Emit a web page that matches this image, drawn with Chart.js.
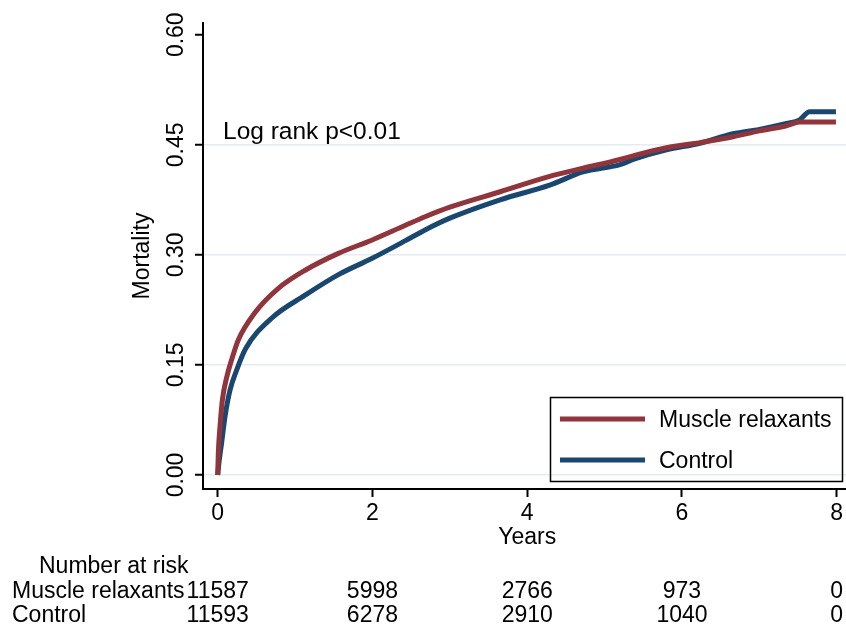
<!DOCTYPE html>
<html>
<head>
<meta charset="utf-8">
<script src="https://cdn.jsdelivr.net/npm/chart.js@4.4.1/dist/chart.umd.min.js"></script>
<style>
  html, body { margin: 0; padding: 0; background: #fff; }
</style>
</head>
<body>
<canvas id="km" width="846" height="624"></canvas>
<script>
// Kaplan-Meier cumulative mortality
const YEARS_RELAX = [0, 0.008, 0.03, 0.06, 0.116, 0.18, 0.266, 0.48, 0.78, 1.13, 1.56, 1.99, 2.42, 2.68, 3.0, 3.65, 4.29, 4.72, 5.2, 5.37, 5.8, 6.23, 6.66, 7.0, 7.35, 7.52, 7.99];
const MORT_RELAX  = [0, 0.03, 0.066, 0.102, 0.133, 0.157, 0.184, 0.221, 0.254, 0.279, 0.302, 0.32, 0.34, 0.352, 0.365, 0.386, 0.407, 0.418, 0.43, 0.435, 0.446, 0.453, 0.461, 0.469, 0.476, 0.481, 0.481];

const YEARS_CTRL = [0, 0.02, 0.05, 0.095, 0.16, 0.245, 0.36, 0.7, 1.13, 1.56, 1.99, 2.42, 2.68, 3.0, 3.65, 4.29, 4.72, 5.2, 5.37, 5.8, 6.23, 6.66, 7.0, 7.35, 7.52, 7.65, 7.99];
const MORT_CTRL  = [0, 0.02, 0.043, 0.08, 0.116, 0.143, 0.172, 0.214, 0.245, 0.273, 0.295, 0.319, 0.334, 0.35, 0.375, 0.395, 0.413, 0.423, 0.43, 0.443, 0.452, 0.465, 0.471, 0.479, 0.484, 0.495, 0.495];

const X_TICKS = [0, 2, 4, 6, 8];
const Y_TICKS = [0, 0.15, 0.30, 0.45, 0.60];

const GROUPS = ['Muscle relaxants', 'Control'];
const RISK_RELAX = [11587, 5998, 2766, 973, 0];
const RISK_CTRL = [11593, 6278, 2910, 1040, 0];

const RED = '#90353b';
const BLUE = '#1a476f';
const GRID = '#e3ecf0';
const FAMILY = '"Liberation Sans", Arial, sans-serif';
const FONT = '23px ' + FAMILY;

function toPoints(xs, ys) {
  return xs.map((x, i) => ({ x: x, y: ys[i] }));
}

const labelsPlugin = {
  id: 'kmLabels',
  afterDraw(chart) {
    const ctx = chart.ctx;
    const xs = chart.scales.x;
    const ys = chart.scales.y;
    const area = chart.chartArea;
    ctx.save();
    ctx.fillStyle = '#000';
    ctx.font = FONT;

    // y tick labels, rotated
    Y_TICKS.forEach((v) => {
      ctx.save();
      ctx.translate(183, ys.getPixelForValue(v));
      ctx.rotate(-Math.PI / 2);
      ctx.textAlign = 'center';
      ctx.textBaseline = 'alphabetic';
      ctx.fillText(v.toFixed(2), 0, 0);
      ctx.restore();
    });

    // y title
    ctx.save();
    ctx.translate(149, (area.top + area.bottom) / 2);
    ctx.rotate(-Math.PI / 2);
    ctx.textAlign = 'center';
    ctx.fillText('Mortality', 0, 0);
    ctx.restore();

    // x tick labels + title
    ctx.textAlign = 'center';
    ctx.textBaseline = 'alphabetic';
    X_TICKS.forEach((v) => {
      ctx.fillText(String(v), xs.getPixelForValue(v), 520);
    });
    ctx.fillText('Years', xs.getPixelForValue(4), 544);

    // annotation
    ctx.textAlign = 'left';
    ctx.font = '24.5px ' + FAMILY;
    ctx.fillText('Log rank p<0.01', 223, 139);
    ctx.font = FONT;

    // legend
    ctx.lineWidth = 1.5;
    ctx.strokeStyle = '#000';
    ctx.strokeRect(550.5, 397.5, 292, 84);
    [[RED, 419, 427], [BLUE, 460, 468]].forEach(([c, ly, ty], i) => {
      ctx.beginPath();
      ctx.strokeStyle = c;
      ctx.lineWidth = 5;
      ctx.moveTo(560, ly);
      ctx.lineTo(645, ly);
      ctx.stroke();
      ctx.fillText(GROUPS[i], 659, ty);
    });

    // number at risk table
    ctx.fillText('Number at risk', 39, 573);
    ctx.fillText(GROUPS[0], 12, 598);
    ctx.fillText(GROUPS[1], 12, 622);
    ctx.textAlign = 'center';
    X_TICKS.forEach((v, i) => {
      const px = xs.getPixelForValue(v);
      ctx.fillText(String(RISK_RELAX[i]), px, 598);
      ctx.fillText(String(RISK_CTRL[i]), px, 622);
    });
    ctx.restore();
  },
};

new Chart(document.getElementById('km'), {
  type: 'line',
  data: {
    datasets: [
      {
        label: GROUPS[0],
        data: toPoints(YEARS_RELAX, MORT_RELAX),
        borderColor: RED,
        borderWidth: 5,
        pointRadius: 0,
        cubicInterpolationMode: 'monotone',
        borderCapStyle: 'butt',
      },
      {
        label: GROUPS[1],
        data: toPoints(YEARS_CTRL, MORT_CTRL),
        borderColor: BLUE,
        borderWidth: 5,
        pointRadius: 0,
        cubicInterpolationMode: 'monotone',
        borderCapStyle: 'butt',
      },
    ],
  },
  options: {
    responsive: false,
    animation: false,
    devicePixelRatio: 1,
    layout: { padding: { top: 23, right: 0, left: 0, bottom: 0 } },
    plugins: { legend: { display: false }, tooltip: { enabled: false } },
    scales: {
      x: {
        type: 'linear',
        min: -0.19,
        max: 8.12,
        afterFit(s) { s.height = 135; },
        afterBuildTicks(s) { s.ticks = X_TICKS.map((v) => ({ value: v })); },
        ticks: { display: false },
        grid: { drawOnChartArea: false, drawTicks: true, tickLength: 8, tickColor: '#000', tickWidth: 2 },
        border: { color: '#000', width: 2 },
      },
      y: {
        type: 'linear',
        min: -0.0191,
        max: 0.616,
        afterFit(s) { s.width = 203; },
        afterBuildTicks(s) { s.ticks = Y_TICKS.map((v) => ({ value: v })); },
        ticks: { display: false },
        grid: {
          color: (c) => (c.tick && c.tick.value === 0.6 ? 'rgba(0,0,0,0)' : GRID),
          lineWidth: 1.5,
          drawTicks: true,
          tickLength: 8,
          tickColor: '#000',
          tickWidth: 2,
        },
        border: { color: '#000', width: 2 },
      },
    },
  },
  plugins: [labelsPlugin],
});
</script>
</body>
</html>
